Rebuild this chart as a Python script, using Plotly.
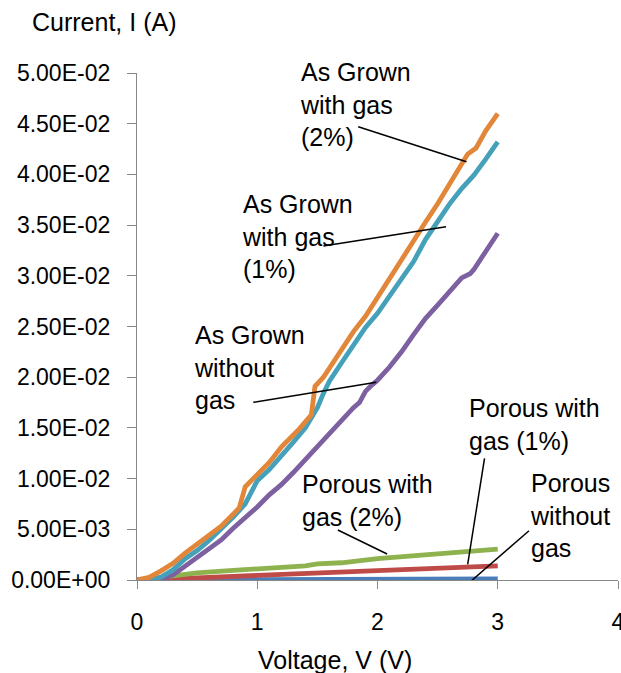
import plotly.graph_objects as go
import numpy as np

# ---------------- data (current in mA, converted to A below) ----------------
v_grown_2 = [0, 0.1, 0.2, 0.3, 0.4, 0.5, 0.6, 0.7, 0.8, 0.85, 0.9, 1.0, 1.1, 1.2, 1.3, 1.35,
             1.45, 1.48, 1.55, 1.6, 1.7, 1.8, 1.9, 2.0, 2.1, 2.2, 2.3, 2.4, 2.5, 2.6, 2.7,
             2.75, 2.82, 2.9, 3.0]
i_grown_2 = [0, 0.25, 0.9, 1.65, 2.65, 3.5, 4.4, 5.3, 6.5, 7.1, 9.2, 10.4, 11.6, 13.1, 14.3, 14.9,
             16.3, 19.1, 20.0, 20.9, 22.9, 24.5, 26.0, 27.9, 29.7, 31.5, 33.4, 35.3, 37.1, 39.0, 40.9,
             42.0, 42.6, 44.3, 46.0]

v_grown_1 = [0, 0.1, 0.2, 0.3, 0.4, 0.5, 0.6, 0.7, 0.8, 0.9, 1.0, 1.1, 1.2, 1.3, 1.4, 1.5,
             1.55, 1.6, 1.7, 1.8, 1.9, 2.0, 2.1, 2.2, 2.3, 2.4, 2.5, 2.6, 2.7, 2.8, 2.9, 3.0]
i_grown_1 = [0, 0.0, 0.3, 1.0, 2.1, 2.9, 3.9, 5.0, 6.2, 7.5, 9.8, 10.9, 12.2, 13.6, 15.0, 17.0,
             18.4, 19.6, 21.4, 23.2, 24.9, 26.3, 28.0, 29.8, 31.4, 33.6, 35.4, 37.1, 38.6, 39.9, 41.5, 43.2]

v_grown_0 = [0, 0.1, 0.2, 0.3, 0.4, 0.5, 0.6, 0.7, 0.8, 0.9, 1.0, 1.1, 1.2, 1.3, 1.4, 1.5,
             1.6, 1.7, 1.8, 1.85, 1.9, 1.95, 2.0, 2.1, 2.2, 2.3, 2.4, 2.5, 2.6, 2.7, 2.77, 2.8,
             2.9, 3.0]
i_grown_0 = [0, 0, 0.1, 0.5, 1.35, 2.2, 3.0, 3.95, 5.1, 6.1, 7.2, 8.4, 9.4, 10.6, 11.9, 13.2,
             14.5, 15.8, 17.0, 17.5, 18.6, 19.2, 19.7, 21.0, 22.5, 24.2, 25.8, 27.1, 28.5, 29.8, 30.2, 30.6,
             32.4, 34.2]

v_porous_2 = [0, 0.1, 0.2, 0.3, 0.5, 0.8, 1.0, 1.2, 1.4, 1.5, 1.7, 2.0, 2.2, 2.5, 2.8, 3.0]
i_porous_2 = [0, 0.05, 0.25, 0.4, 0.7, 0.95, 1.1, 1.25, 1.4, 1.6, 1.7, 2.1, 2.3, 2.55, 2.85, 3.05]

v_porous_1 = [0, 0.2, 0.5, 1.0, 1.5, 2.0, 2.5, 3.0]
i_porous_1 = [0, 0.05, 0.2, 0.45, 0.7, 0.95, 1.2, 1.4]

v_porous_0 = [0, 1.0, 2.0, 3.0]
i_porous_0 = [0, 0.03, 0.07, 0.12]

series_names = ["Porous without gas", "Porous with gas (1%)", "Porous with gas (2%)",
                "As Grown without gas", "As Grown with gas (1%)", "As Grown with gas (2%)"]
series_v = [v_porous_0, v_porous_1, v_porous_2, v_grown_0, v_grown_1, v_grown_2]
series_i = [i_porous_0, i_porous_1, i_porous_2, i_grown_0, i_grown_1, i_grown_2]
series_colors = ["#4A7EBB", "#BE4B48", "#8DB24E", "#7D60A0", "#45A0B9", "#E2873A"]

y_tickvals = [0, 0.005, 0.01, 0.015, 0.02, 0.025, 0.03, 0.035, 0.04, 0.045, 0.05]
y_ticktext = ["0.00E+00", "5.00E-03", "1.00E-02", "1.50E-02", "2.00E-02", "2.50E-02",
              "3.00E-02", "3.50E-02", "4.00E-02", "4.50E-02", "5.00E-02"]
x_tickvals = [0, 1, 2, 3, 4]
x_ticktext = ["0", "1", "2", "3", "4"]

# labels: text, text-left x, text-middle y, leader line (x0, y0, x1, y1)
label_texts = ["As Grown<br>with gas<br>(2%)", "As Grown<br>with gas<br>(1%)",
               "As Grown<br>without<br>gas", "Porous with<br>gas (2%)",
               "Porous with<br>gas (1%)", "Porous<br>without<br>gas"]
label_x = [1.338, 0.856, 0.457, 1.355, 2.743, 3.250]
label_y = [0.0469, 0.0339, 0.0210, 0.0078, 0.0153, 0.0064]
leader_lines = [(1.84, 0.0447, 2.74, 0.04125),
                (1.55, 0.03294, 2.57, 0.03484),
                (0.967, 0.01752, 1.99, 0.0195),
                (1.67, 0.00493, 2.08, 0.00256),
                (2.89, 0.0120, 2.75, 0.00155),
                (3.26, 0.00486, 2.74, -0.0005)]

FONT = "Arial, Liberation Sans, sans-serif"
AXIS_GREY = "#878787"

fig = go.Figure()
for name, v, i, c in zip(series_names, series_v, series_i, series_colors):
    fig.add_trace(go.Scatter(x=v, y=np.array(i) * 1e-3, mode="lines", name=name,
                             line=dict(color=c, width=4.8), showlegend=False))

for x0, y0, x1, y1 in leader_lines:
    fig.add_shape(type="line", x0=x0, y0=y0, x1=x1, y1=y1, xref="x", yref="y",
                  line=dict(color="black", width=1.5))

for t, x, y in zip(label_texts, label_x, label_y):
    fig.add_annotation(x=x, y=y, xref="x", yref="y", text=t, showarrow=False,
                       xanchor="left", yanchor="middle", align="left",
                       font=dict(family=FONT, size=25, color="black"))

W, H = 621, 673
L, R, T, B = 137, 3, 73, 93
PW, PH = W - L - R, H - T - B

fig.add_annotation(x=(30 - L) / PW, y=(H - B - 22) / PH, xref="paper", yref="paper",
                   text="Current, I (A)", showarrow=False, xanchor="left", yanchor="middle",
                   font=dict(family=FONT, size=25, color="black"))
fig.add_annotation(x=(335 - L) / PW, y=-(660 - (H - B)) / PH, xref="paper", yref="paper",
                   text="Voltage, V (V)", showarrow=False, xanchor="center", yanchor="middle",
                   font=dict(family=FONT, size=25, color="black"))

fig.update_layout(
    width=W, height=H,
    margin=dict(l=L, r=R, t=T, b=B, autoexpand=False),
    paper_bgcolor="white", plot_bgcolor="white",
    showlegend=False,
    xaxis=dict(range=[0, 4], tickvals=x_tickvals, ticktext=x_ticktext,
               showgrid=False, zeroline=False, showline=True, linecolor=AXIS_GREY,
               linewidth=1.3, ticks="outside", ticklen=8, tickcolor=AXIS_GREY,
               tickwidth=1.3, ticklabelstandoff=13, ticklabeloverflow="allow",
               tickfont=dict(family=FONT, size=23, color="black")),
    yaxis=dict(range=[0, 0.05], tickvals=y_tickvals, ticktext=y_ticktext,
               showgrid=False, zeroline=False, showline=True, linecolor=AXIS_GREY,
               linewidth=1.3, ticks="outside", ticklen=9, tickcolor=AXIS_GREY,
               tickwidth=1.3, ticklabelstandoff=12,
               tickfont=dict(family=FONT, size=23, color="black")),
)

fig.write_html("out.html",
               config={"displayModeBar": False},
               post_script="document.body.style.margin='0';"
                           "document.documentElement.style.overflow='hidden';")
